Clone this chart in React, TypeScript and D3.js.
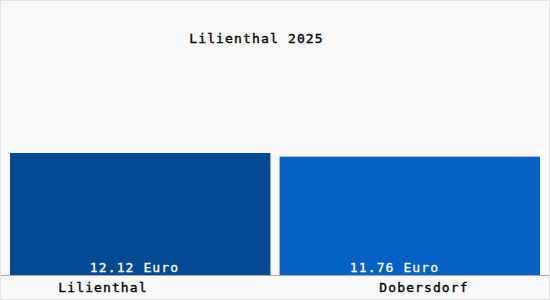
import React from "react";
import * as d3 from "d3";

const categories = ["Lilienthal", "Dobersdorf"];
const values = [12.12, 11.76];
const valueLabels = ["12.12 Euro", "11.76 Euro"];
const colors = ["#034a94", "#0561c5"];
const title = "Lilienthal 2025";

const W = 550;
const H = 300;

export default function App() {
  const x = d3.scaleBand<string>().domain(categories).range([10, 540]).paddingInner(0.034);
  const y = d3.scaleLinear().domain([0, d3.max(values) as number]).range([275, 153]);
  const labelX = d3.scalePoint<string>().domain(categories).range([103, 424]);
  const valueX = d3.scalePoint<string>().domain(categories).range([134.5, 394.5]);
  const font = "'DejaVu Sans Mono', monospace";
  return (
    <svg width={W} height={H} style={{ position: "absolute", left: 0, top: 0 }}>
      <rect x={0.5} y={0.5} width={W - 1} height={H - 1} fill="#f8f8f8" stroke="#e2e2e2" />
      <text x={256.5} y={43} textAnchor="middle" fontFamily={font} fontSize={13} letterSpacing={1.15} fill="#000" stroke="#000" strokeWidth={0.35}>
        {title}
      </text>
      {categories.map((c, i) => (
        <rect key={c} x={x(c)} y={y(values[i])} width={x.bandwidth()} height={y(0) - y(values[i])} fill={colors[i]} />
      ))}
      <line x1={1} x2={W - 1} y1={275.5} y2={275.5} stroke="#a8a8a8" />
      {categories.map((c, i) => (
        <text key={c + "v"} x={valueX(c)} y={272} textAnchor="middle" fontFamily={font} fontSize={13} letterSpacing={1.1} fill="#ffffff" stroke="#ffffff" strokeWidth={0.3}>
          {valueLabels[i]}
        </text>
      ))}
      {categories.map((c) => (
        <text key={c + "l"} x={labelX(c)} y={292} textAnchor="middle" fontFamily={font} fontSize={13} letterSpacing={1.1} fill="#000" stroke="#000" strokeWidth={0.35}>
          {c}
        </text>
      ))}
    </svg>
  );
}
